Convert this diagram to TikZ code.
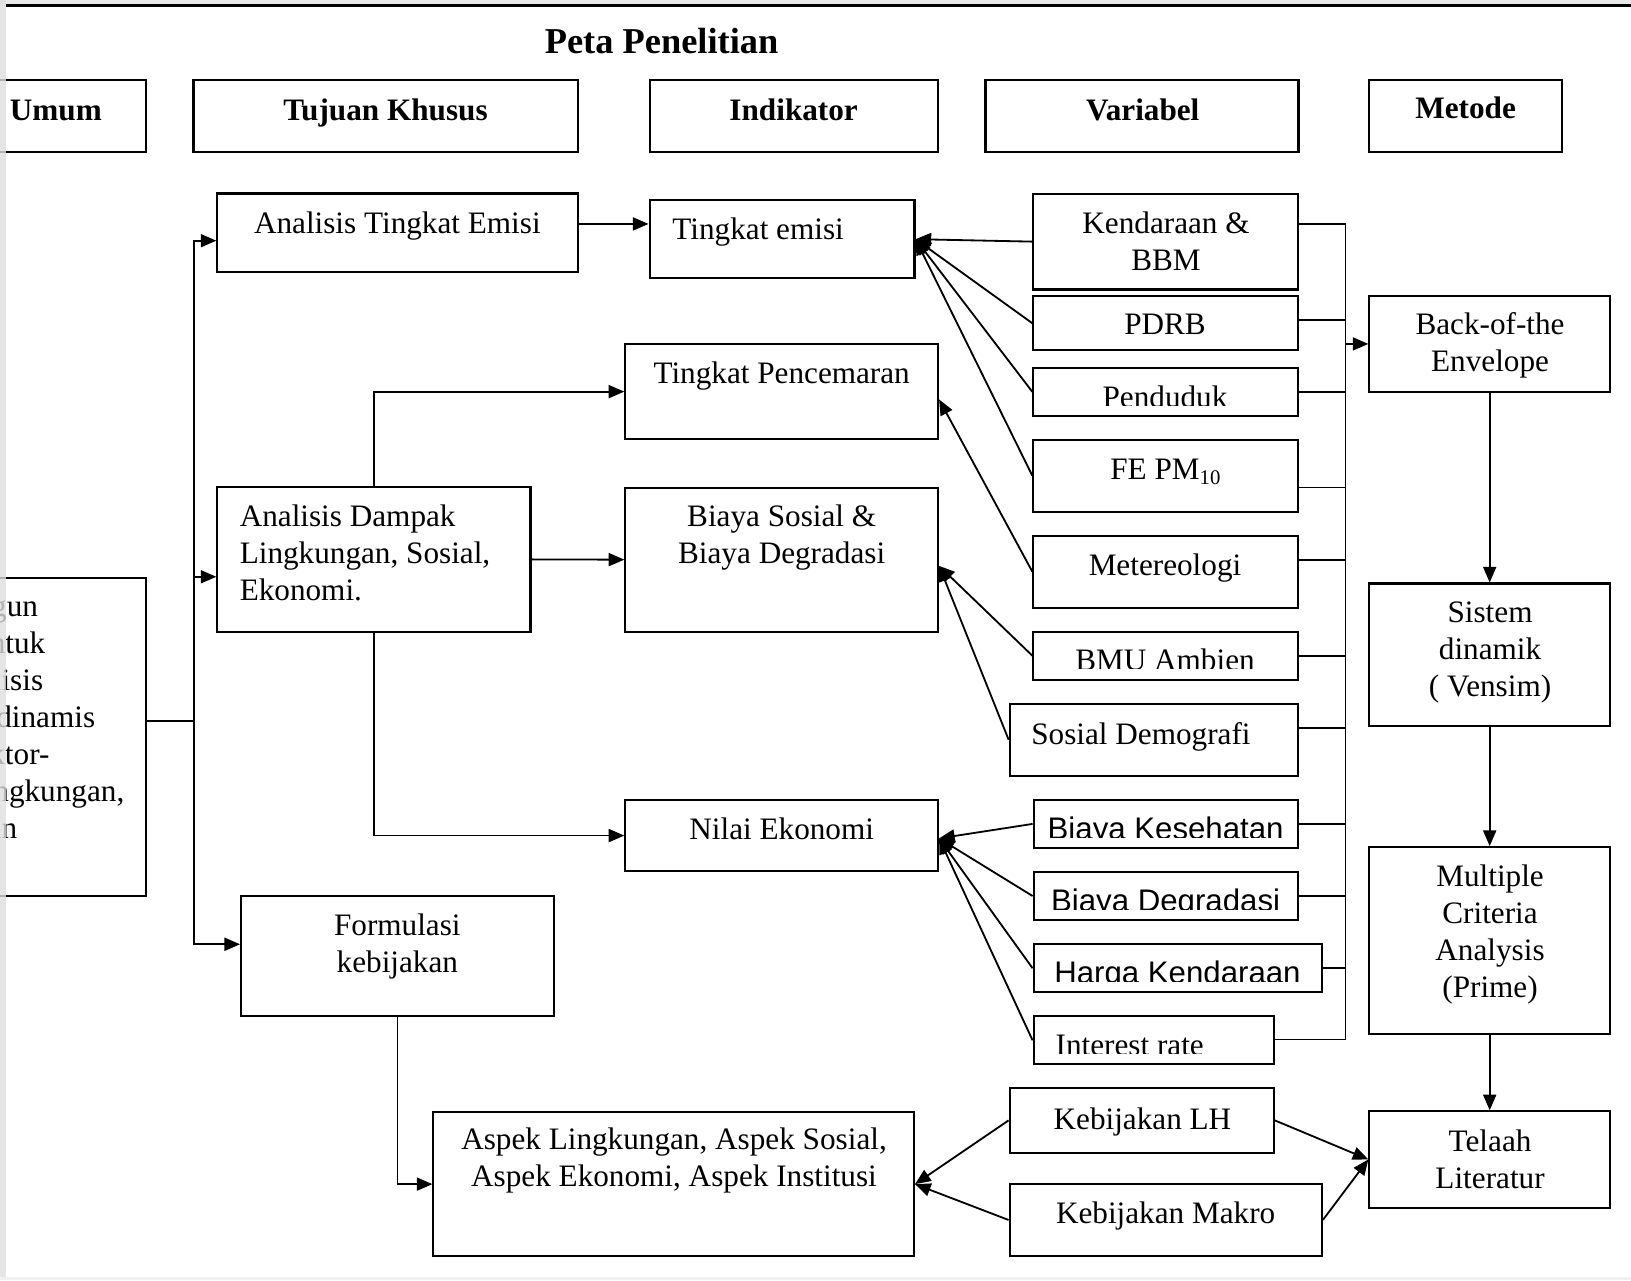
\documentclass[tikz,border=0pt]{standalone}
\usepackage{fontspec}
\setmainfont{Liberation Serif}
\newfontfamily\arialfont{Liberation Sans}
\usepackage{tikz}
\usetikzlibrary{arrows.meta, fit}

\begin{document}
\begin{tikzpicture}[x=0.4pt, y=-0.4pt,
  box/.style={draw, line width=0.8pt, inner sep=0pt},
  txt/.style={inner sep=0pt, font=\fontsize{12}{14.2}\selectfont},
  head/.style={inner sep=0pt, anchor=base, font=\bfseries\fontsize{12}{14}\selectfont},
  sans/.style={inner sep=0pt, anchor=base, font=\arialfont\fontsize{12}{14}\selectfont},
  conn/.style={line width=0.7pt},
  connarr/.style={line width=0.7pt, -{Triangle[length=6pt,width=5pt]}}]
\useasboundingbox (0,0) rectangle (1568,1231);
\clip (0,0) rectangle (1568,1231);

% edge of the scanned page
\fill[gray!18] (0,0) rectangle (1568,3.5);
\draw[line width=1.3pt] (6,5.4) -- (1568,5.4);

\node[head, font=\bfseries\fontsize{14}{16}\selectfont] (title) at (636,51.3) {Peta Penelitian};

% column heads
\node[box, fit={(-30,77) (140.8,146)}] (humum) {};
\node[head, anchor=base west] (humum-t) at (9,115.4) {Umum};
\node[box, fit={(186,77) (555.6,146)}] (hkhusus) {};
\node[head] (hkhusus-t) at (370.6,115.4) {Tujuan Khusus};
\node[box, fit={(624.5,77) (901.7,146)}] (hindikator) {};
\node[head] (hindikator-t) at (763,115.4) {Indikator};
\node[box, fit={(947.4,77) (1248.3,146)}] (hvariabel) {};
\node[head] (hvariabel-t) at (1098.6,115.4) {Variabel};
\node[box, fit={(1316.5,77) (1502,146)}] (hmetode) {};
\node[head] (hmetode-t) at (1409,113.8) {Metode};

% tujuan umum (cut off at the left edge)
\node[box, fit={(-30,555.5) (140.6,861)}] (umum) {};
\node[txt, anchor=base east] (umum-t1) at (37,593) {gun};
\node[txt, anchor=base east] (umum-t2) at (44,628.5) {ntuk};
\node[txt, anchor=base east] (umum-t3) at (42,664) {lisis};
\node[txt, anchor=base east] (umum-t4) at (92,699.5) {dinamis};
\node[txt, anchor=base east] (umum-t5) at (48,735) {ktor-};
\node[txt, anchor=base east] (umum-t6) at (120,770.5) {ngkungan,};
\node[txt, anchor=base east] (umum-t7) at (17,806) {an};

% tujuan khusus (multi-line texts sit on their last baseline)
\node[box, fit={(209,186) (555.6,261.2)}] (ate) {};
\node[txt, anchor=base] (ate-t) at (382,224.3) {Analisis Tingkat Emisi};
\node[box, fit={(209,468) (510,607.6)}] (adl) {};
\node[txt, align=left, anchor=base west] (adl-t) at (230,577.4) {Analisis Dampak\\Lingkungan, Sosial,\\Ekonomi.};
\node[box, fit={(231.8,861) (532.5,976.4)}] (form) {};
\node[txt, align=center, anchor=base] (form-t) at (382,935) {Formulasi\\kebijakan};

% indikator
\node[box, fit={(624.5,192.3) (879.2,267.6)}] (emisi) {};
\node[txt, anchor=base west] (emisi-t) at (646,230.7) {Tingkat emisi};
\node[box, fit={(601.2,330.7) (901.8,422.3)}] (pen) {};
\node[txt, anchor=base] (pen-t) at (751.5,368.5) {Tingkat Pencemaran};
\node[box, fit={(601.2,468.8) (901.8,607.3)}] (bsos) {};
\node[txt, align=center, anchor=base] (bsos-t) at (751.5,541.6) {Biaya Sosial \&\\Biaya Degradasi};
\node[box, fit={(601.2,769) (901.8,837.6)}] (nil) {};
\node[txt, anchor=base] (nil-t) at (751.5,807) {Nilai Ekonomi};
\node[box, fit={(416.7,1069.3) (878.7,1207.5)}] (aspek) {};
\node[txt, align=center, anchor=base] (aspek-t) at (648,1140.8) {Aspek Lingkungan, Aspek Sosial,\\Aspek Ekonomi, Aspek Institusi};

% variabel
\node[box, fit={(993.5,186.3) (1248,278.3)}] (kend) {};
\node[txt, align=center, anchor=base] (kend-t) at (1121,259.8) {Kendaraan \&\\BBM};
\node[box, fit={(993.5,285) (1248,336.6)}] (pdrb) {};
\node[txt, anchor=base] (pdrb-t) at (1120,322) {PDRB};
\node[box, fit={(993.5,353.6) (1248,399.9)}] (pend) {};
\begin{scope}
\clip (993.5,353.6) rectangle (1248,389.8);
\node[txt, anchor=base] (pend-t) at (1120,391.5) {Penduduk};
\end{scope}
\node[box, fit={(993.5,423) (1248,491.9)}] (fepm) {};
\node[txt, anchor=base] (fepm-t) at (1121,461) {FE PM\textsubscript{10}};
\node[box, fit={(993.5,515.2) (1248,584.2)}] (met) {};
\node[txt, anchor=base] (met-t) at (1120,553.5) {Metereologi};
\node[box, fit={(993.5,607.5) (1248,653.3)}] (bmu) {};
\begin{scope}
\clip (993.5,607.5) rectangle (1248,643);
\node[txt, anchor=base] (bmu-t) at (1120,644.7) {BMU Ambien};
\end{scope}
\node[box, fit={(970.7,676.6) (1248.2,745.8)}] (sosd) {};
\node[txt, anchor=base west] (sosd-t) at (991,716) {Sosial Demografi};
\node[box, fit={(993.7,769) (1248.2,815.2)}] (bkes) {};
\begin{scope}
\clip (993.7,769) rectangle (1248.2,805.2);
\node[sans] (bkes-t) at (1120.6,806.9) {Biaya Kesehatan};
\end{scope}
\node[box, fit={(993.7,838.3) (1248.2,884.5)}] (bdeg) {};
\begin{scope}
\clip (993.7,838.3) rectangle (1248.2,874.6);
\node[sans] (bdeg-t) at (1120.6,876.3) {Biaya Degradasi};
\end{scope}
\node[box, fit={(993.7,907.7) (1270.8,954)}] (hken) {};
\begin{scope}
\clip (993.7,907.7) rectangle (1270.8,944);
\node[sans] (hken-t) at (1132,945.7) {Harga Kendaraan};
\end{scope}
\node[box, fit={(993.7,977) (1224.7,1023.3)}] (intr) {};
\begin{scope}
\clip (993.7,977) rectangle (1224.7,1012.6);
\node[txt, anchor=base west] (intr-t) at (1014.4,1014.3) {Interest rate};
\end{scope}
\node[box, fit={(970.6,1045.7) (1224.7,1108.6)}] (klh) {};
\node[txt, anchor=base] (klh-t) at (1098.3,1085.5) {Kebijakan LH};
\node[box, fit={(970.6,1138.2) (1270.8,1207.5)}] (kmak) {};
\node[txt, anchor=base] (kmak-t) at (1120.6,1176.2) {Kebijakan Makro};

% metode
\node[box, fit={(1316.5,284.6) (1547.8,376.7)}] (back) {};
\node[txt, align=center, anchor=base] (back-t) at (1432.5,356.8) {Back-of-the\\Envelope};
\node[box, fit={(1316.5,561) (1547.8,697.8)}] (sis) {};
\node[txt, align=center, anchor=base] (sis-t) at (1432.5,669.6) {Sistem\\dinamik\\( Vensim)};
\node[box, fit={(1316.5,814.4) (1547.8,994)}] (mca) {};
\node[txt, align=center, anchor=base] (mca-t) at (1432.5,959.2) {Multiple\\Criteria\\Analysis\\(Prime)};
\node[box, fit={(1316.5,1068.4) (1547.8,1160.9)}] (tel) {};
\node[txt, align=center, anchor=base] (tel-t) at (1432.5,1142.4) {Telaah\\Literatur};

% tujuan umum -> tujuan khusus
\coordinate (j1) at (186.5,693);
\draw[conn] (umum.east |- j1) -- (j1);
\draw[connarr] (j1) |- (ate.west |- 0,231.4);
\draw[connarr] (j1) |- (adl.west |- 0,554.5);
\draw[connarr] (j1) |- (form.west |- 0,907.8);

% tujuan khusus -> indikator
\draw[connarr] (ate.east |- 0,215.3) -- (emisi.west |- 0,215.3);
\draw[connarr] (adl.north) |- (pen.west);
\draw[connarr] (adl.east) -- (bsos.west);
\draw[connarr] (adl.south) |- (nil.west);
\draw[connarr] (form.south) |- (aspek.west);

% variabel -> indikator
\draw[connarr] (kend.west) -- (emisi.east);
\draw[connarr] (pdrb.west) -- (emisi.east);
\draw[connarr] (pend.west) -- (emisi.east);
\draw[connarr] (fepm.west) -- (emisi.east);
\draw[connarr] (met.west) -- (pen.east |- 0,384);
\draw[connarr] (bmu.west) -- (bsos.east |- 0,544);
\draw[connarr] (sosd.west) -- (bsos.east |- 0,544);
\draw[connarr] (bkes.west) -- (nil.east |- 0,806);
\draw[connarr] (bdeg.west) -- (nil.east |- 0,806);
\draw[connarr] (hken.west) -- (nil.east |- 0,806);
\draw[connarr] (intr.west) -- (nil.east |- 0,806);
\draw[connarr] (klh.west) -- (aspek.east);
\draw[connarr] (kmak.west) -- (aspek.east);
\draw[connarr] (klh.east) -- (tel.west);
\draw[connarr] (kmak.east) -- (tel.west);

% variabel -> metode
\coordinate (bus-t) at (1293.6,215.4);
\coordinate (bus-b) at (1293.6,999.3);
\draw[conn] (kend.east |- bus-t) -- (bus-t) -- (bus-b) -- (intr.east |- bus-b);
\draw[conn] (pdrb.east |- 0,307.4) -- (bus-t |- 0,307.4);
\draw[conn] (pend.east |- 0,376.7) -- (bus-t |- 0,376.7);
\draw[conn] (fepm.east |- 0,468.7) -- (bus-t |- 0,468.7);
\draw[conn] (met.east |- 0,538.2) -- (bus-t |- 0,538.2);
\draw[conn] (bmu.east |- 0,630.6) -- (bus-t |- 0,630.6);
\draw[conn] (sosd.east |- 0,699.6) -- (bus-t |- 0,699.6);
\draw[conn] (bkes.east |- 0,792) -- (bus-t |- 0,792);
\draw[conn] (bdeg.east |- 0,861.4) -- (bus-t |- 0,861.4);
\draw[conn] (hken.east |- 0,930.8) -- (bus-t |- 0,930.8);
\draw[connarr] (bus-t |- back.west) -- (back.west);

% metode chain
\draw[connarr] (back.south) -- (sis.north);
\draw[connarr] (sis.south) -- (mca.north);
\draw[connarr] (mca.south) -- (tel.north);

% scan margins
\fill[gray!25, opacity=0.8] (0,0) rectangle (6,1231);
\fill[gray!12] (0,1227.5) rectangle (1568,1231);
\end{tikzpicture}
\end{document}
